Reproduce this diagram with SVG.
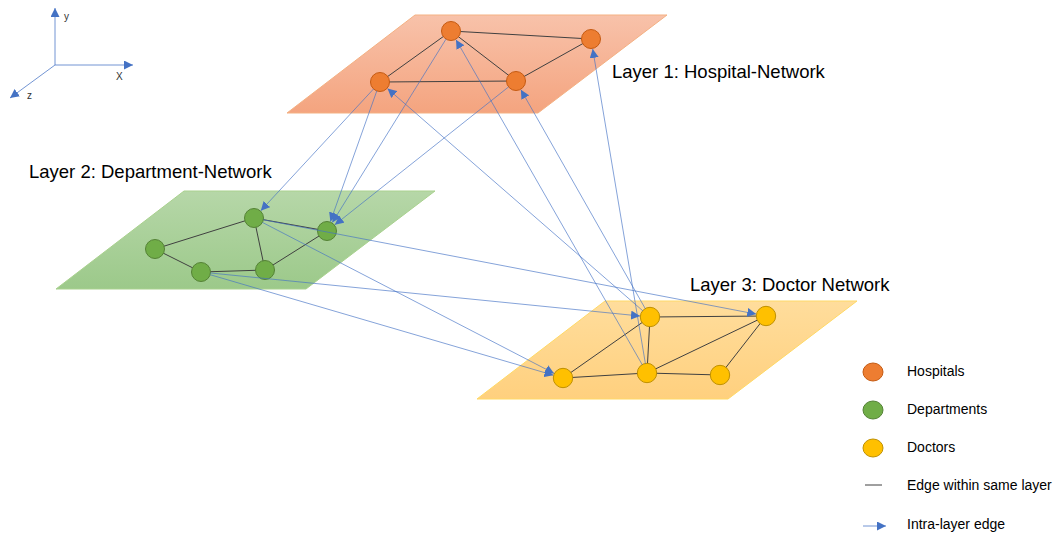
<svg xmlns="http://www.w3.org/2000/svg" width="1057" height="535" viewBox="0 0 1057 535">
<style>
.lbl{font-family:"Liberation Sans",Arial,sans-serif;fill:#000;}
.big{font-size:18.5px;}
.leg{font-size:14px;}
.ax{font-size:10px;fill:#333;}
.e{stroke:#404040;stroke-width:1;fill:none;}
.b{stroke:#4472C4;stroke-opacity:0.65;stroke-width:1;fill:none;marker-end:url(#arr);}
.axl{stroke:#4472C4;stroke-opacity:0.75;stroke-width:1;fill:none;marker-end:url(#arr);}
.h{fill:#ED7D31;stroke:#C55A11;stroke-width:1;}
.d{fill:#70AD47;stroke:#548235;stroke-width:1;}
.y{fill:#FFC000;stroke:#BF9000;stroke-width:1;}
</style>
<defs>
<marker id="arr" viewBox="0 0 10 10" refX="10" refY="5" markerWidth="9" markerHeight="9" markerUnits="userSpaceOnUse" orient="auto">
<path d="M0,0 L10,5 L0,10 z" fill="#4472C4"/>
</marker>
<linearGradient id="gO" x1="0" y1="0" x2="0" y2="1">
<stop offset="0" stop-color="#F8C2AA"/><stop offset="1" stop-color="#F4A47F"/>
</linearGradient>
<linearGradient id="gG" x1="0" y1="0" x2="0" y2="1">
<stop offset="0" stop-color="#B6D7A8"/><stop offset="1" stop-color="#9CC98A"/>
</linearGradient>
<linearGradient id="gY" x1="0" y1="0" x2="0" y2="1">
<stop offset="0" stop-color="#FFDD9C"/><stop offset="1" stop-color="#FFD07E"/>
</linearGradient>
</defs>
<rect width="1057" height="535" fill="#fff"/>

<g id="axes">
<line class="axl" x1="55" y1="65" x2="55" y2="8"/>
<line class="axl" x1="55" y1="65" x2="133" y2="65"/>
<line class="axl" x1="55" y1="65" x2="10" y2="98"/>
<text class="lbl ax" x="64" y="20">y</text>
<text class="lbl ax" x="116" y="80">X</text>
<text class="lbl ax" x="27" y="99">z</text>
</g>

<g id="planes">
<polygon id="plane1" points="415,15 667,15 538,113 287,113" fill="url(#gO)" stroke="#F4B183" stroke-width="1"/>
<polygon id="plane2" points="184,191 435,191 306,289 56,289" fill="url(#gG)" stroke="#A9D18E" stroke-width="1"/>
<polygon id="plane3" points="605,301 857,301 728,399 477,399" fill="url(#gY)" stroke="#FFD966" stroke-width="1"/>
</g>

<g id="layer-edges">
<line class="e" x1="451" y1="31" x2="591" y2="39"/>
<line class="e" x1="451" y1="31" x2="380" y2="82"/>
<line class="e" x1="451" y1="31" x2="516" y2="81"/>
<line class="e" x1="380" y1="82" x2="516" y2="81"/>
<line class="e" x1="516" y1="81" x2="591" y2="39"/>
<line class="e" x1="254" y1="218" x2="327" y2="231"/>
<line class="e" x1="254" y1="218" x2="155" y2="249"/>
<line class="e" x1="155" y1="249" x2="201" y2="272"/>
<line class="e" x1="201" y1="272" x2="265" y2="270"/>
<line class="e" x1="265" y1="270" x2="327" y2="231"/>
<line class="e" x1="254" y1="218" x2="265" y2="270"/>
<line class="e" x1="650" y1="317" x2="766" y2="316"/>
<line class="e" x1="650" y1="317" x2="563" y2="378"/>
<line class="e" x1="650" y1="317" x2="647" y2="373"/>
<line class="e" x1="563" y1="378" x2="647" y2="373"/>
<line class="e" x1="647" y1="373" x2="720" y2="375"/>
<line class="e" x1="647" y1="373" x2="766" y2="316"/>
<line class="e" x1="720" y1="375" x2="766" y2="316"/>
</g>

<g id="nodes-hospitals">
<circle id="h1" class="h" cx="451" cy="31" r="9.5"/>
<circle id="h2" class="h" cx="591" cy="39" r="9.5"/>
<circle id="h3" class="h" cx="380" cy="82" r="9.5"/>
<circle id="h4" class="h" cx="516" cy="81" r="9.5"/>
</g>
<g id="nodes-departments">
<circle id="d1" class="d" cx="254" cy="218" r="9.5"/>
<circle id="d2" class="d" cx="327" cy="231" r="9.5"/>
<circle id="d3" class="d" cx="155" cy="249" r="9.5"/>
<circle id="d4" class="d" cx="201" cy="272" r="9.5"/>
<circle id="d5" class="d" cx="265" cy="270" r="9.5"/>
</g>
<g id="nodes-doctors">
<circle id="y1" class="y" cx="650" cy="317" r="9.7"/>
<circle id="y2" class="y" cx="766" cy="316" r="9.7"/>
<circle id="y3" class="y" cx="563" cy="378" r="9.7"/>
<circle id="y4" class="y" cx="647" cy="373" r="9.7"/>
<circle id="y5" class="y" cx="720" cy="375" r="9.7"/>
</g>

<g id="inter-layer-edges">
<line class="b" x1="373.5" y1="89" x2="260.8" y2="210.7"/>
<line class="b" x1="376.8" y1="90.9" x2="330.4" y2="221.6"/>
<line class="b" x1="446" y1="39.1" x2="332.3" y2="222.5"/>
<line class="b" x1="508.6" y1="86.9" x2="334.8" y2="224.8"/>
<line class="b" x1="642.8" y1="310.8" x2="387.5" y2="88.6"/>
<line class="b" x1="642.3" y1="364.8" x2="456" y2="39.7"/>
<line class="b" x1="645.3" y1="308.7" x2="520.9" y2="89.7"/>
<line class="b" x1="645.4" y1="363.6" x2="592.7" y2="48.9"/>
<line class="b" x1="263.3" y1="219.8" x2="756.2" y2="314.1"/>
<line class="b" x1="210.5" y1="273" x2="640" y2="316"/>
<line class="b" x1="210.1" y1="274.7" x2="553.4" y2="375.2"/>
<line class="b" x1="262.4" y1="222.4" x2="554.1" y2="373.4"/>
</g>

<g id="labels">
<text class="lbl big" x="612" y="78">Layer 1: Hospital-Network</text>
<text class="lbl big" x="29" y="178">Layer 2: Department-Network</text>
<text class="lbl big" x="690" y="291">Layer 3: Doctor Network</text>
</g>

<g id="legend">
<ellipse class="h" cx="873" cy="372" rx="10" ry="9"/>
<text class="lbl leg" x="907" y="376">Hospitals</text>
<ellipse class="d" cx="873" cy="410" rx="10" ry="9"/>
<text class="lbl leg" x="907" y="414">Departments</text>
<ellipse class="y" cx="873" cy="448" rx="10" ry="9"/>
<text class="lbl leg" x="907" y="452">Doctors</text>
<line class="e" x1="865" y1="485" x2="882" y2="485"/>
<text class="lbl leg" x="907" y="490">Edge within same layer</text>
<line class="axl" x1="863" y1="526" x2="886" y2="526"/>
<text class="lbl leg" x="907" y="529">Intra-layer edge</text>
</g>
</svg>
